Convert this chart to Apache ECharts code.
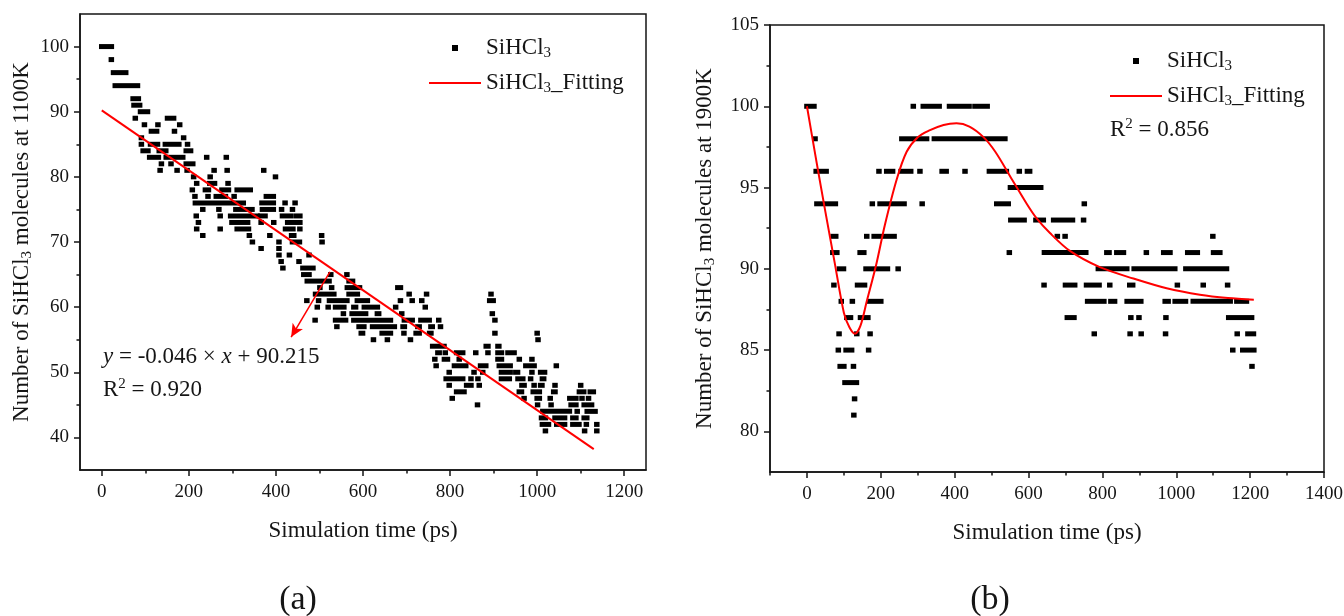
<!DOCTYPE html>
<html>
<head>
<meta charset="utf-8">
<script src="https://cdn.jsdelivr.net/npm/echarts@6/dist/echarts.min.js"></script>
<style>
  html, body { margin: 0; padding: 0; background: #fff; }
  #chart { width: 1344px; height: 616px; }
</style>
</head>
<body>
<div id="chart"></div>
<script>
// ---------------- data ----------------
// scatter runs: [from time (ps), to time (ps), molecule count]
const runsA = [
  [0,22,100],
  [22,22,98],
  [27,55,96],
  [31,82,94],
  [72,84,92],
  [74,87,91],
  [89,105,90],
  [77,77,89],[151,165,89],
  [98,98,88],[129,129,88],[179,179,88],
  [114,126,87],[167,167,87],
  [91,91,86],[188,188,86],
  [91,91,85],[112,128,85],[146,177,85],[197,197,85],
  [95,106,84],[132,147,84],[194,204,84],
  [110,130,83],[148,186,83],[241,241,83],[286,286,83],
  [137,137,82],[159,159,82],[194,209,82],
  [134,134,81],[173,173,81],[196,196,81],[258,258,81],[288,288,81],[372,372,81],
  [211,211,80],[249,249,80],[399,399,80],
  [218,218,79],[248,259,79],[290,290,79],
  [208,208,78],[238,245,78],[276,291,78],[311,341,78],
  [214,214,77],[244,244,77],[263,284,77],[304,304,77],[378,394,77],
  [215,325,76],[368,394,76],[421,421,76],[444,444,76],
  [232,232,75],[269,269,75],[308,345,75],[369,394,75],[413,413,75],[438,438,75],
  [217,217,74],[272,272,74],[296,357,74],[365,375,74],[415,433,74],[446,455,74],
  [222,222,73],[299,335,73],[366,366,73],[395,395,73],[427,455,73],
  [218,218,72],[272,272,72],[311,337,72],[422,439,72],[455,455,72],
  [232,232,71],[339,339,71],[386,386,71],[436,441,71],[505,505,71],
  [346,346,70],[407,407,70],[438,454,70],[506,506,70],
  [366,366,69],[407,407,69],
  [407,407,68],[431,431,68],[476,476,68],
  [412,412,67],[453,453,67],
  [416,416,66],[462,485,66],
  [464,476,65],[526,526,65],[563,563,65],
  [472,522,64],[568,576,64],
  [501,501,63],[528,528,63],[564,564,63],[576,592,63],[680,686,63],
  [491,533,62],[568,587,62],[706,706,62],[746,746,62],[894,894,62],
  [471,471,61],[498,498,61],[523,563,61],[587,610,61],[686,686,61],[713,713,61],[735,735,61],[891,899,61],
  [495,495,60],[520,520,60],[537,556,60],[579,583,60],[603,633,60],[675,675,60],[743,743,60],
  [555,555,59],[575,606,59],[633,636,59],[689,689,59],[897,897,59],
  [490,490,58],[537,560,58],[579,663,58],[695,713,58],[733,752,58],[774,774,58],[903,903,58],
  [540,540,57],[591,602,57],[622,672,57],[692,695,57],[726,729,57],[756,759,57],[778,778,57],
  [596,599,56],[644,663,56],[694,694,56],[722,729,56],[753,756,56],[903,903,56],[1000,1000,56],
  [624,624,55],[656,656,55],[709,709,55],[1002,1002,55],
  [760,786,54],[883,887,54],[910,912,54],
  [772,775,53],[789,789,53],[815,829,53],[859,859,53],[887,887,53],[910,918,53],[933,947,53],
  [765,765,52],[787,794,52],[821,821,52],[910,918,52],[959,959,52],[988,988,52],
  [768,768,51],[810,836,51],[870,882,51],[913,938,51],[974,993,51],[1044,1044,51],
  [798,798,50],[855,855,50],[875,875,50],[918,938,50],[951,955,50],[988,988,50],[1008,1017,50],
  [791,829,49],[848,848,49],[864,864,49],[918,936,49],[956,967,49],[985,985,49],[1012,1015,49],
  [798,798,48],[838,848,48],[867,867,48],[965,970,48],[993,993,48],[1008,1011,48],[1041,1041,48],[1100,1100,48],
  [815,832,47],[959,964,47],[991,1005,47],[1038,1041,47],[1097,1107,47],[1122,1129,47],
  [805,805,46],[970,970,46],[1000,1005,46],[1030,1030,46],[1075,1089,46],[1103,1103,46],[1118,1118,46],
  [863,863,45],[1001,1001,45],[1032,1032,45],[1078,1089,45],[1108,1125,45],
  [1013,1074,44],[1092,1092,44],[1115,1133,44],
  [1010,1019,43],[1041,1063,43],[1082,1089,43],[1108,1114,43],
  [1012,1026,42],[1045,1063,42],[1082,1096,42],[1113,1113,42],[1137,1137,42],
  [1019,1019,41],[1109,1109,41],[1137,1137,41]
];
const fitA = [[0, 90.215], [1130, 38.2]];
const arrowA = [[524, 65.4], [435, 55.4]];

const runsB = [
  [0,19,100],[288,288,100],[315,358,100],[386,439,100],[455,488,100],
  [22,22,98],[257,324,98],[345,536,98],
  [25,52,96],[195,195,96],[216,232,96],[255,281,96],[306,306,96],[366,377,96],[428,428,96],[494,540,96],[575,575,96],[597,603,96],
  [551,633,95],
  [27,77,94],[177,177,94],[198,263,94],[312,312,94],[514,545,94],[751,751,94],
  [552,588,93],[620,640,93],[668,719,93],[749,749,93],
  [71,78,92],[162,162,92],[182,236,92],[678,678,92],[699,699,92],[1099,1099,92],
  [70,81,91],[144,154,91],[548,548,91],[643,755,91],[812,818,91],[839,857,91],[919,919,91],[966,983,91],[1031,1057,91],[1101,1118,91],
  [88,99,90],[160,218,90],[247,247,90],[789,866,90],[886,996,90],[1026,1136,90],
  [73,73,89],[137,156,89],[642,642,89],[700,725,89],[757,791,89],[820,820,89],[874,882,89],[1003,1003,89],[1073,1073,89],[1139,1139,89],
  [93,93,88],[123,123,88],[170,200,88],[760,804,88],[823,833,88],[867,904,88],[970,978,88],[997,1025,88],[1046,1146,88],[1164,1190,88],
  [108,118,87],[145,165,87],[705,723,87],[877,877,87],[899,899,87],[972,972,87],[1142,1204,87],
  [87,87,86],[135,135,86],[171,171,86],[778,778,86],[875,875,86],[905,905,86],[971,971,86],[1165,1165,86],[1194,1209,86],
  [85,85,85],[106,121,85],[167,167,85],[1153,1153,85],[1180,1210,85],
  [90,100,84],[126,126,84],[1205,1205,84],
  [103,134,83],
  [129,129,82],
  [127,127,81]
];
const fitB = [
  [0,100],[25,96.7],[50,93.5],[75,90.4],[100,87.3],[115,86.4],[130,86.0],[145,86.5],
  [162,88.0],[188,90.3],[211,92.7],[243,95.5],[270,97.2],[300,98.1],[330,98.5],
  [370,98.85],[405,98.95],[440,98.75],[478,98.1],[510,97.2],[550,95.7],[595,94.0],
  [622,93.1],[658,92.2],[712,91.1],[793,90.1],[884,89.4],[974,88.8],[1064,88.4],
  [1140,88.2],[1210,88.1]
];

const xTicksA = [0, 200, 400, 600, 800, 1000, 1200];
const xMinorA = [100, 300, 500, 700, 900, 1100];
const yTicksA = [40, 50, 60, 70, 80, 90, 100];
const yMinorA = [45, 55, 65, 75, 85, 95];
const xTicksB = [0, 200, 400, 600, 800, 1000, 1200, 1400];
const xMinorB = [-100, 100, 300, 500, 700, 900, 1100, 1300];
const yTicksB = [80, 85, 90, 95, 100, 105];
const yMinorB = [82.5, 87.5, 92.5, 97.5, 102.5];

// ---------------- chart ----------------
const FONT = 'Liberation Serif';
const INK = '#151515';
const MW = 5.5, MH = 5;

const subRich = {
  s: { fontFamily: FONT, fontSize: 15, color: INK, verticalAlign: 'bottom' },
  p: { fontFamily: FONT, fontSize: 15, color: INK, verticalAlign: 'top' },
  i: { fontFamily: FONT, fontSize: 23, color: INK, fontStyle: 'italic' }
};

function renderRun(params, api) {
  const a = api.coord([api.value(0), api.value(2)]);
  const b = api.coord([api.value(1), api.value(2)]);
  return {
    type: 'rect',
    shape: { x: a[0] - MW / 2, y: a[1] - MH / 2, width: b[0] - a[0] + MW, height: MH },
    style: { fill: '#000' }
  };
}

function mainX(grid, min, max, ticks) {
  return {
    gridIndex: grid, type: 'value', min: min, max: max, position: 'bottom',
    axisLine: { show: true, onZero: false, lineStyle: { color: INK, width: 1.5 } },
    axisTick: { show: true, customValues: ticks, length: 6, lineStyle: { color: INK, width: 1.5 } },
    axisLabel: { customValues: ticks, formatter: v => String(v), margin: 13, fontFamily: FONT, fontSize: 19, color: INK },
    splitLine: { show: false },
    name: 'Simulation time (ps)', nameLocation: 'middle', nameGap: 49,
    nameTextStyle: { fontFamily: FONT, fontSize: 23, color: INK }
  };
}
function minorX(grid, min, max, ticks) {
  return {
    gridIndex: grid, type: 'value', min: min, max: max, position: 'bottom',
    axisLine: { show: false, onZero: false },
    axisTick: { show: true, customValues: ticks, length: 3.5, lineStyle: { color: INK, width: 1.5 } },
    axisLabel: { show: false }, splitLine: { show: false }
  };
}
function mainY(grid, min, max, ticks, name, gap) {
  return {
    gridIndex: grid, type: 'value', min: min, max: max, position: 'left',
    axisLine: { show: true, onZero: false, lineStyle: { color: INK, width: 1.5 } },
    axisTick: { show: true, customValues: ticks, length: 6, lineStyle: { color: INK, width: 1.5 } },
    axisLabel: { customValues: ticks, formatter: v => String(v), margin: 11, fontFamily: FONT, fontSize: 19, color: INK },
    splitLine: { show: false },
    name: name, nameLocation: 'middle', nameRotate: 90, nameGap: gap,
    nameTextStyle: { fontFamily: FONT, fontSize: 23, color: INK, lineHeight: 26, rich: subRich }
  };
}
function minorY(grid, min, max, ticks) {
  return {
    gridIndex: grid, type: 'value', min: min, max: max, position: 'left',
    axisLine: { show: false, onZero: false },
    axisTick: { show: true, customValues: ticks, length: 3.5, lineStyle: { color: INK, width: 1.5 } },
    axisLabel: { show: false }, splitLine: { show: false }
  };
}
function legendAt(left, top) {
  return {
    left: left, top: top, orient: 'vertical', padding: 0, itemGap: 9,
    itemWidth: 52, itemHeight: 6, selectedMode: false, symbolKeepAspect: true,
    data: [
      { name: 'SiHCl3', icon: 'path://M0,0h6v6h-6z' },
      { name: 'SiHCl3_Fitting', icon: 'path://M0,0h52v2h-52z' }
    ],
    formatter: n => n === 'SiHCl3' ? 'SiHCl{s|3}' : 'SiHCl{s|3}_Fitting',
    textStyle: { fontFamily: FONT, fontSize: 23, color: INK, lineHeight: 26, rich: subRich }
  };
}
function note(x, y, text, size) {
  return {
    type: 'text', x: x, y: y, silent: true,
    style: {
      text: text, fill: INK, fontFamily: FONT, fontSize: size || 23, lineHeight: 26,
      align: size ? 'center' : 'left', verticalAlign: 'middle', rich: subRich
    }
  };
}

const chart = echarts.init(document.getElementById('chart'), null, { renderer: 'canvas' });
const option = {
  animation: false,
  backgroundColor: '#fff',
  textStyle: { fontFamily: FONT },
  grid: [
    { left: 80, top: 14, width: 566, height: 456, show: true, borderColor: INK, borderWidth: 1.5, outerBoundsMode: 'none' },
    { left: 770, top: 25, width: 554, height: 447, show: true, borderColor: INK, borderWidth: 1.5, outerBoundsMode: 'none' }
  ],
  xAxis: [
    mainX(0, -50, 1250, xTicksA), minorX(0, -50, 1250, xMinorA),
    mainX(1, -100, 1400, xTicksB), minorX(1, -100, 1400, xMinorB)
  ],
  yAxis: [
    mainY(0, 35, 105, yTicksA, 'Number of SiHCl{s|3} molecules at 1100K', 45), minorY(0, 35, 105, yMinorA),
    mainY(1, 77.5, 105, yTicksB, 'Number of SiHCl{s|3} molecules at 1900K', 52), minorY(1, 77.5, 105, yMinorB)
  ],
  legend: [legendAt(429, 35), legendAt(1110, 48)],
  series: [
    {
      name: 'SiHCl3', type: 'custom', xAxisIndex: 0, yAxisIndex: 0,
      itemStyle: { color: '#000' }, renderItem: renderRun, encode: { x: [0, 1], y: 2 },
      data: runsA, silent: true, z: 2
    },
    {
      name: 'SiHCl3_Fitting', type: 'line', xAxisIndex: 0, yAxisIndex: 0,
      data: fitA, symbol: 'none', color: '#ff0000',
      lineStyle: { color: '#ff0000', width: 2 }, silent: true, z: 3,
      markLine: {
        silent: true, symbol: ['none', 'arrow'], symbolSize: [9, 13],
        lineStyle: { color: '#ff0000', width: 1.5, type: 'solid' },
        label: { show: false }, emphasis: { disabled: true },
        data: [[{ coord: arrowA[0] }, { coord: arrowA[1] }]]
      }
    },
    {
      name: 'SiHCl3', type: 'custom', xAxisIndex: 2, yAxisIndex: 2,
      itemStyle: { color: '#000' }, renderItem: renderRun, encode: { x: [0, 1], y: 2 },
      data: runsB, silent: true, z: 2
    },
    {
      name: 'SiHCl3_Fitting', type: 'line', xAxisIndex: 2, yAxisIndex: 2,
      data: fitB, symbol: 'none', smooth: 0.3, color: '#ff0000',
      lineStyle: { color: '#ff0000', width: 2 }, silent: true, z: 3
    }
  ],
  graphic: [
    note(103, 357, '{i|y} = -0.046 × {i|x} + 90.215'),
    note(103, 390, 'R{p|2} = 0.920'),
    note(1110, 130, 'R{p|2} = 0.856'),
    note(298, 600, '(a)', 34),
    note(990, 600, '(b)', 34)
  ]
};
chart.setOption(option);
</script>
</body>
</html>
